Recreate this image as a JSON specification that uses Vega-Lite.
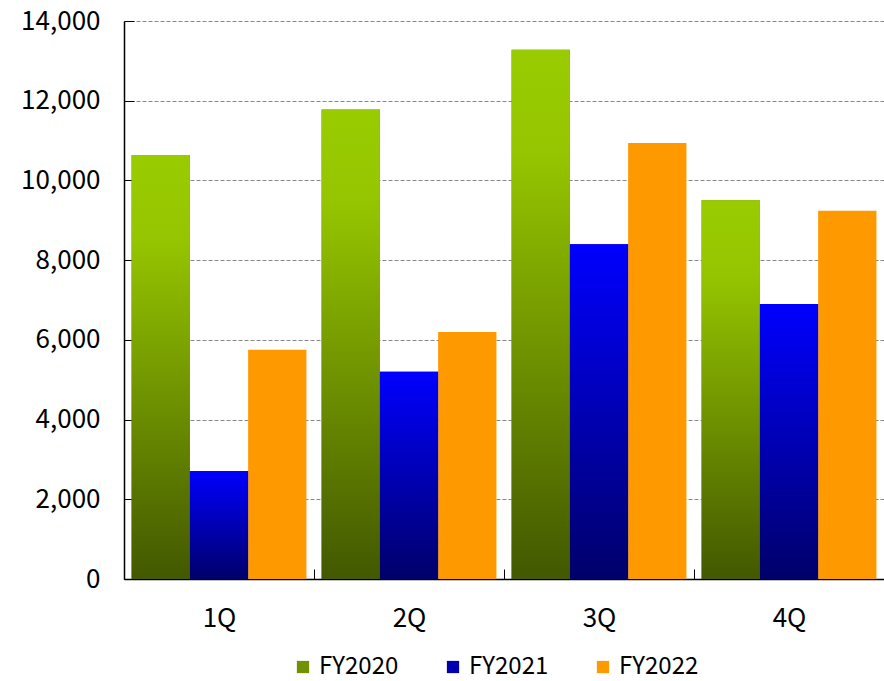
{
  "$schema": "https://vega.github.io/schema/vega-lite/v6.json",
  "width": 760,
  "height": 558,
  "autosize": {"type": "none"},
  "padding": {"left": 124, "top": 21, "right": 0, "bottom": 102},
  "background": "white",
  "data": {
    "values": [
      {"quarter": "1Q", "series": "FY2020", "value": 10640},
      {"quarter": "1Q", "series": "FY2021", "value": 2710},
      {"quarter": "1Q", "series": "FY2022", "value": 5750},
      {"quarter": "2Q", "series": "FY2020", "value": 11780},
      {"quarter": "2Q", "series": "FY2021", "value": 5200},
      {"quarter": "2Q", "series": "FY2022", "value": 6200},
      {"quarter": "3Q", "series": "FY2020", "value": 13280},
      {"quarter": "3Q", "series": "FY2021", "value": 8400},
      {"quarter": "3Q", "series": "FY2022", "value": 10940},
      {"quarter": "4Q", "series": "FY2020", "value": 9500},
      {"quarter": "4Q", "series": "FY2021", "value": 6900},
      {"quarter": "4Q", "series": "FY2022", "value": 9240}
    ]
  },
  "encoding": {
    "x": {
      "field": "quarter",
      "type": "nominal",
      "sort": ["1Q", "2Q", "3Q", "4Q"],
      "scale": {"paddingInner": 0, "paddingOuter": 0},
      "axis": {
        "title": null,
        "labelAngle": 0,
        "labelFont": "Noto Sans CJK JP",
        "labelFontSize": 26,
        "labelColor": "#000000",
        "labelPadding": 36,
        "domainColor": "#000000",
        "domainWidth": 1.5,
        "tickColor": "#000000",
        "tickBand": "extent",
        "tickSize": -10,
        "tickWidth": 1,
        "grid": false
      }
    },
    "xOffset": {
      "field": "series",
      "type": "nominal",
      "sort": ["FY2020", "FY2021", "FY2022"],
      "scale": {"paddingInner": 0, "paddingOuter": 0.13}
    },
    "y": {
      "field": "value",
      "type": "quantitative",
      "scale": {"domain": [0, 14000], "nice": false},
      "axis": {
        "title": null,
        "values": [0, 2000, 4000, 6000, 8000, 10000, 12000, 14000],
        "format": ",d",
        "labelFont": "Noto Sans CJK JP",
        "labelFontSize": 26,
        "labelColor": "#000000",
        "labelPadding": 34,
        "domainColor": "#000000",
        "domainWidth": 1.5,
        "tickColor": "#000000",
        "tickSize": -10,
        "tickWidth": 1,
        "grid": true,
        "gridColor": "#888888",
        "gridDash": [4, 2],
        "gridWidth": 1.2
      }
    }
  },
  "layer": [
    {
      "mark": {"type": "bar"},
      "encoding": {
        "color": {
          "field": "series",
          "type": "nominal",
          "sort": ["FY2020", "FY2021", "FY2022"],
          "scale": {
            "domain": ["FY2020", "FY2021", "FY2022"],
            "range": ["#6f9200", "#0000b0", "#ff9900"]
          },
          "legend": {
            "title": null,
            "orient": "none",
            "legendX": 167,
            "legendY": 634,
            "direction": "horizontal",
            "symbolType": "square",
            "symbolSize": 150,
            "symbolStrokeWidth": 0,
            "labelFont": "Noto Sans CJK JP",
            "labelFontSize": 24,
            "labelColor": "#000000",
            "columnPadding": 42,
            "labelOffset": 4,
            "symbolOpacity": 1
          }
        }
      }
    },
    {
      "transform": [{"filter": "datum.series === 'FY2020'"}],
      "mark": {
        "type": "bar",
        "fill": {"gradient": "linear", "x1": 0, "y1": 0, "x2": 0, "y2": 1, "stops": [{"offset": 0, "color": "#99cc00"}, {"offset": 0.2, "color": "#95c500"}, {"offset": 1, "color": "#435800"}]}
      }
    },
    {
      "transform": [{"filter": "datum.series === 'FY2021'"}],
      "mark": {
        "type": "bar",
        "fill": {"gradient": "linear", "x1": 0, "y1": 0, "x2": 0, "y2": 1, "stops": [{"offset": 0, "color": "#0000ff"}, {"offset": 1, "color": "#00006a"}]}
      }
    }
  ],
  "config": {
    "view": {"stroke": null}
  }
}
